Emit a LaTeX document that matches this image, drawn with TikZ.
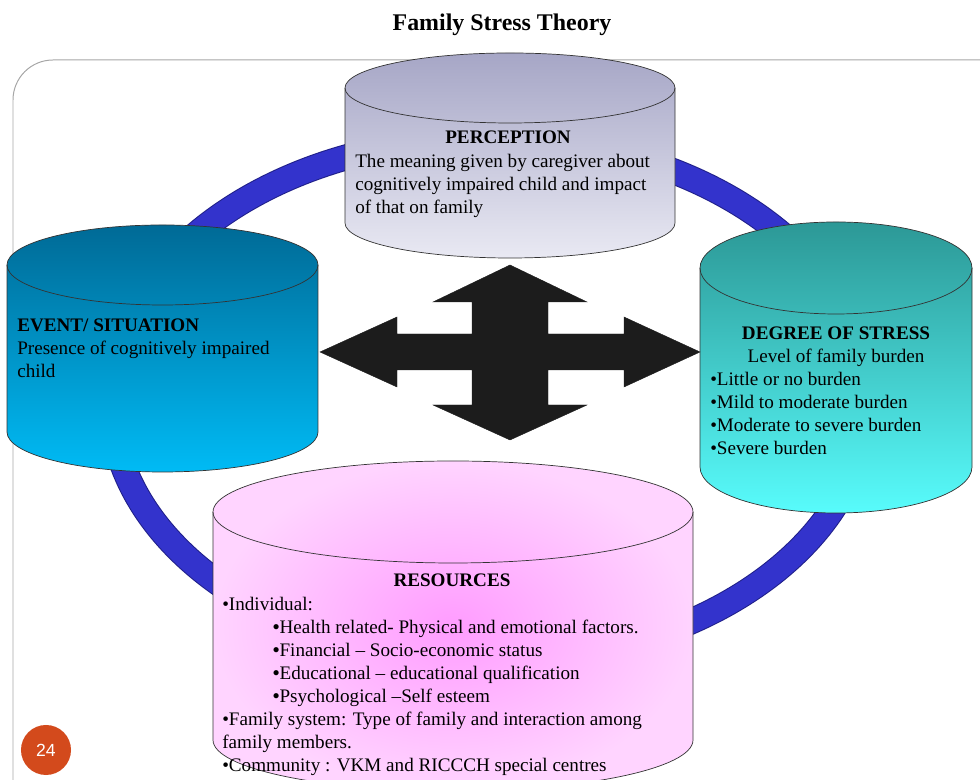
\documentclass[tikz,border=0pt]{standalone}
\usepackage{fontspec}
\setmainfont{Liberation Serif}
\newfontfamily\slidesans{Liberation Sans}

\definecolor{frameGray}{HTML}{A6A6A6}
\definecolor{ringBlue}{HTML}{3333CC}
\definecolor{ringEdge}{HTML}{20208A}
\definecolor{drumLine}{HTML}{333333}
\definecolor{arrowBlack}{HTML}{1C1C1C}
\definecolor{percTop}{HTML}{A6A6C6}
\definecolor{percBot}{HTML}{E9E9F3}
\definecolor{evTop}{HTML}{006A96}
\definecolor{evBot}{HTML}{00BBF5}
\definecolor{degTop}{HTML}{2C9896}
\definecolor{degBot}{HTML}{58FCFC}
\definecolor{resIn}{HTML}{FF9CFF}
\definecolor{resOut}{HTML}{FFD4FF}
\definecolor{pageRed}{HTML}{D34A1C}

\newcommand{\bodyfont}{\fontsize{13.6pt}{16.4pt}\selectfont}
% #1 left, #2 right, #3 top centre, #4 bottom centre, #5 y radius, #6 fill
\newcommand{\drum}[6]{%
  \pgfmathsetmacro{\drumrx}{(#2-#1)/2}
  \path[#6] (#1,#3) -- (#1,#4) arc[start angle=180, end angle=360, x radius=\drumrx, y radius=#5]
    -- (#2,#3) arc[start angle=0, end angle=180, x radius=\drumrx, y radius=#5] -- cycle;
  \draw[drumedge] (#1,#3) -- (#1,#4) arc[start angle=180, end angle=360, x radius=\drumrx, y radius=#5]
    -- (#2,#3) arc[start angle=0, end angle=180, x radius=\drumrx, y radius=#5] -- cycle;
  \draw[drumedge] (#1,#3) arc[start angle=180, end angle=360, x radius=\drumrx, y radius=#5];
}

\begin{document}
\begin{tikzpicture}[x=0.025cm, y=0.025cm,
  frame/.style={draw=frameGray, line width=0.7pt, rounded corners=1cm},
  ring/.style={draw=ringBlue, line width=17pt},
  ringedge/.style={draw=ringEdge, line width=18.5pt},
  drumedge/.style={draw=drumLine, line width=0.5pt},
  txt/.style={font=\bodyfont, inner sep=0pt, align=left, anchor=base west},
  head/.style={font=\bodyfont\bfseries, inner sep=0pt, anchor=base},
  bigarrow/.style={fill=arrowBlack, draw=arrowBlack, line width=0.3pt}]
	\useasboundingbox (0,0) rectangle (980,780);
	\clip (0,0) rectangle (980,780);
	
	\node[font=\fontsize{17pt}{20pt}\selectfont\bfseries, anchor=base] (title) at (502,749) {Family Stress Theory};
	\draw[frame] (13,720) rectangle (1030,-40);
	
	% cycle ring
	\draw[ringedge] (489,380) ellipse [x radius=378, y radius=262];
	\draw[ring] (489,380) ellipse [x radius=378, y radius=262];
	
	% cylinders
	\drum{345}{675}{692}{557}{35}{top color=percTop, bottom color=percBot}
	\drum{7}{318}{515}{348}{40}{top color=evTop, bottom color=evBot}
	\drum{700}{972}{512}{313}{46}{top color=degTop, bottom color=degBot}
	\drum{213}{693}{268}{40}{51}{inner color=resIn, outer color=resOut}
	
	% four-way arrow
	\draw[bigarrow, shift={(510,428)}] (0,87) -- (77,50) -- (38,50) -- (38,18) -- (114,18) -- (114,35)
	  -- (190,0) -- (114,-35) -- (114,-18) -- (38,-18) -- (38,-53) -- (77,-53) -- (0,-88)
	  -- (-77,-53) -- (-38,-53) -- (-38,-18) -- (-113,-18) -- (-113,-35) -- (-190,0)
	  -- (-113,35) -- (-113,18) -- (-38,18) -- (-38,50) -- (-77,50) -- cycle;
	
	% texts (base = last line)
	\node[head] (percT) at (508,636) {PERCEPTION};
	\node[txt] (percB) at (355,566) {The meaning given by caregiver about\\cognitively impaired child and impact\\of that on family};
	
	\node[txt] (evB) at (17,402) {\textbf{EVENT/ SITUATION}\\Presence of cognitively impaired\\child};
	
	\node[head] (degT) at (836,440) {DEGREE OF STRESS};
	\node[head, font=\bodyfont] (degL) at (836,417) {Level of family burden};
	\node[txt] (degB) at (710,325) {•Little or no burden\\•Mild to moderate burden\\•Moderate to severe burden\\•Severe burden};
	
	\node[head] (resT) at (452,193) {RESOURCES};
	\node[txt] (resB) at (222,8) {•Individual:\\
	  \hspace*{36pt}\textbf{•}Health related- Physical and emotional factors.\\
	  \hspace*{36pt}\textbf{•}Financial – Socio-economic status\\
	  \hspace*{36pt}\textbf{•}Educational – educational qualification\\
	  \hspace*{36pt}\textbf{•}Psychological –Self esteem\\
	  •Family system: Type of family and interaction among\\
	  family members.\\
	  •Community : VKM and RICCCH special centres};
	
	\node[circle, fill=pageRed, minimum size=1.25cm, inner sep=0pt, text=white, font=\slidesans\fontsize{12.5pt}{14pt}\selectfont] (page) at (46,30) {24};
\end{tikzpicture}
\end{document}
